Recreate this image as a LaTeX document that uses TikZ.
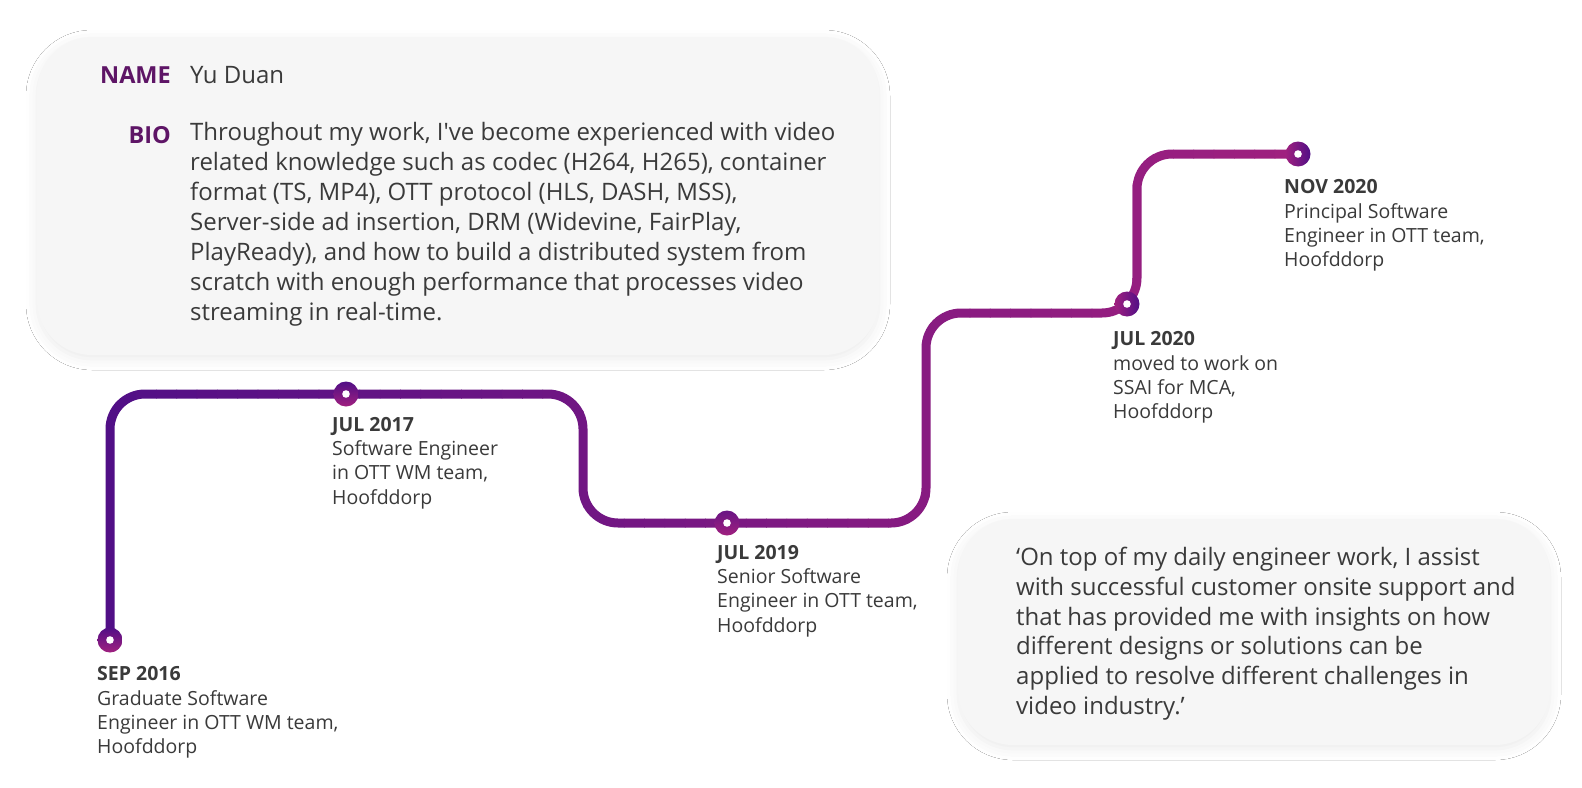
\documentclass[tikz,border=0pt]{standalone}
\usepackage{fontspec}
\setmainfont{Open Sans}
\usetikzlibrary{shadows.blur}
\definecolor{tlL}{HTML}{510F86}
\definecolor{tlR}{HTML}{A0207F}
\definecolor{boxgray}{HTML}{F6F6F6}
\definecolor{txt}{HTML}{3A3A3A}
\definecolor{head}{HTML}{5E1566}
\begin{document}
\begin{tikzpicture}[x=1pt, y=-1pt,
  card/.style={fill=boxgray, rounded corners=55pt,
    blur shadow={shadow xshift=0pt, shadow yshift=-4pt, shadow blur radius=11pt, shadow opacity=8}},
  body/.style={inner sep=0pt, anchor=north west, yshift=21pt, align=left, text=txt,
    font=\fontsize{24}{30}\selectfont, execute at begin node=\strut},
  head/.style={inner sep=0pt, anchor=base east, text=head,
    font=\fontsize{23.5}{30}\selectfont\bfseries},
  when/.style={inner sep=0pt, anchor=north west, yshift=17pt, align=left, text=txt,
    font=\fontsize{19.5}{24.3}\selectfont, execute at begin node=\strut},
  dot/.style={circle, inner sep=0pt, minimum size=25pt,
    path picture={\fill[white] (path picture bounding box.center) circle (3.8pt);}},
  tl/.style={line width=9pt, rounded corners=35pt}]
\useasboundingbox[fill=white] (0,0) rectangle (1582,787);

\path[card] (37,37) rectangle (879,355);
\path[card] (958,519) rectangle (1550,745);

\node[head] (name) at (171,83.5) {NAME};
\node[head] (bio) at (171,143.3) {BIO};
\node[body] (nameval) at (190,83.5) {Yu Duan};
\node[body] (bioval) at (190,143.3) {Throughout my work, I\textquotesingle ve become experienced with video\\
related knowledge such as codec (H264, H265), container\\
format (TS, MP4), OTT protocol (HLS, DASH, MSS),\\
Server-side ad insertion, DRM (Widevine, FairPlay,\\
PlayReady), and how to build a distributed system from\\
scratch with enough performance that processes video\\
streaming in real-time.};
\node[body, font=\fontsize{24}{29.7}\selectfont] (quote) at (1016,568.3) {‘On top of my daily engineer work, I assist\\
with successful customer onsite support and\\
that has provided me with insights on how\\
different designs or solutions can be\\
applied to resolve different challenges in\\
video industry.’};

\coordinate (p1) at (110,640);
\coordinate (p2) at (346,394);
\coordinate (c1) at (583,523);
\coordinate (p3) at (727,523);
\coordinate (c2) at (926,313);
\coordinate (p4) at (1127,304);
\coordinate (c3) at (1137,154);
\coordinate (p5) at (1298,154);

\foreach \i in {0,...,59}{
  \pgfmathsetmacro\p{100*\i/59}
  \begin{scope}
    \clip (95+\i*20.34,0) rectangle ++(21,787);
    \draw[tl, color=tlR!\p!tlL] (p1) |- (p2) -| (c1) -- (p3) -| (c2) -| (c3) -- (p5);
  \end{scope}
}

\node[dot, top color=tlL, bottom color=tlR] (d1) at (p1) {};
\node[dot, top color=tlL, bottom color=tlR] (d2) at (p2) {};
\node[dot, top color=tlL!70!tlR, bottom color=tlR] (d3) at (p3) {};
\node[dot, left color=tlR, right color=tlL] (d4) at (p4) {};
\node[dot, left color=tlR, right color=tlL] (d5) at (p5) {};

\node[when] (t1) at (97,683.5) {\textbf{SEP 2016}\\Graduate Software\\Engineer in OTT WM team,\\Hoofddorp};
\node[when] (t2) at (332,434) {\textbf{JUL 2017}\\Software Engineer\\in OTT WM team,\\Hoofddorp};
\node[when] (t3) at (717,562) {\textbf{JUL 2019}\\Senior Software\\Engineer in OTT team,\\Hoofddorp};
\node[when] (t4) at (1113,348.5) {\textbf{JUL 2020}\\moved to work on\\SSAI for MCA,\\Hoofddorp};
\node[when] (t5) at (1284,196.5) {\textbf{NOV 2020}\\Principal Software\\Engineer in OTT team,\\Hoofddorp};
\end{tikzpicture}
\end{document}
